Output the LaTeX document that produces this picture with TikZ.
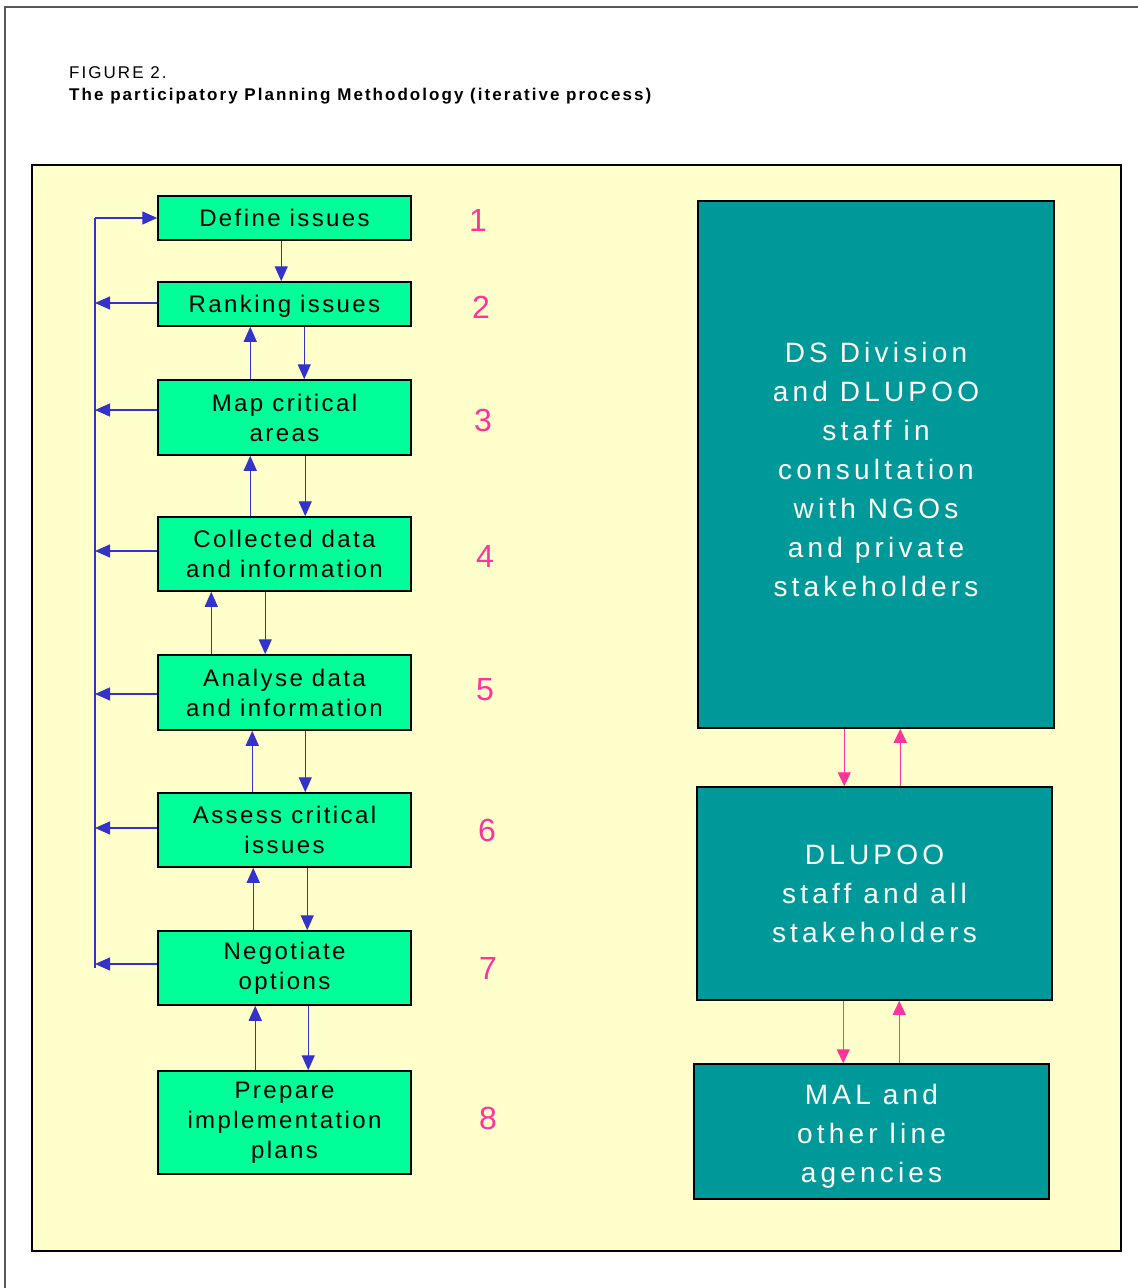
\documentclass[tikz,border=0pt]{standalone}
\usepackage{fontspec}
\setmainfont{Liberation Sans}
\newfontfamily\stepfont[LetterSpace=10]{Liberation Sans}
\newfontfamily\groupfont[LetterSpace=15]{Liberation Sans}
\newfontfamily\capfont[LetterSpace=12]{Liberation Sans}
\usetikzlibrary{arrows.meta}
\definecolor{panel}{HTML}{FFFFCC}
\definecolor{spring}{HTML}{00FF99}
\definecolor{tealbox}{HTML}{009999}
\definecolor{flowblue}{HTML}{3333CC}
\definecolor{hotpink}{HTML}{FF3399}

\begin{document}
\begin{tikzpicture}[x=1pt, y=-1pt,
    stepbox/.style={draw, line width=1.5pt, fill=spring, minimum width=253pt, inner sep=0pt, align=center, font=\stepfont\fontsize{24}{30}\selectfont},
    groupbox/.style={draw, line width=1.5pt, fill=tealbox, text=white, inner sep=0pt, align=center, font=\groupfont\fontsize{28}{39}\selectfont},
    num/.style={text=hotpink, font=\fontsize{32}{32}\selectfont},
    flow/.style={draw=flowblue, line width=1.4pt, -{Triangle[length=15pt,width=13pt]}},
    link/.style={draw=hotpink, line width=1.3pt, -{Triangle[length=14pt,width=13pt]}}]
    \useasboundingbox (0,0) rectangle (1138,1288);

    % Frame and panel
    \draw[line width=2pt, black!65] (1200,7) -- (4.5,7) -- (4.5,1300);
    \draw[line width=1.3pt, fill=panel] (32,165) rectangle (1121,1251);

    % Caption
    \node[anchor=base west, inner sep=0pt, font=\capfont\fontsize{17}{20}\selectfont] (fig) at (69,78) {FIGURE 2.};
    \node[anchor=base west, inner sep=0pt, font=\capfont\bfseries\fontsize{17}{20}\selectfont] (title) at (69,100) {The participatory Planning Methodology (iterative process)};

    % Steps
    \node[stepbox, minimum height=44pt] (def) at (284.5,218) {Define issues};
    \node[stepbox, minimum height=44pt] (rank) at (284.5,304) {\rule{0pt}{22pt}Ranking issues};
    \node[stepbox, minimum height=75pt] (map) at (284.5,417.5) {Map critical\\areas};
    \node[stepbox, minimum height=74pt] (coll) at (284.5,554) {Collected data\\and information};
    \node[stepbox, minimum height=75pt] (anal) at (284.5,692.5) {Analyse data\\and information};
    \node[stepbox, minimum height=74pt] (assess) at (284.5,830) {Assess critical\\issues};
    \node[stepbox, minimum height=74pt] (nego) at (284.5,968) {Negotiate\\options};
    \node[stepbox, minimum height=103pt] (prep) at (284.5,1122.5) {Prepare\\implementation\\plans};

    % Step numbers
    \node[num] (n1) at (478,220) {1};
    \node[num] (n2) at (481,307) {2};
    \node[num] (n3) at (483,420) {3};
    \node[num] (n4) at (485,556) {4};
    \node[num] (n5) at (485,690) {5};
    \node[num] (n6) at (487,830) {6};
    \node[num] (n7) at (488,968) {7};
    \node[num] (n8) at (488,1118) {8};

    % Arrows between steps
    \draw[flow] ([xshift=124pt]def.south west) -- ([xshift=124pt]rank.north west);
    \foreach \a/\b/\u/\d in {rank/map/93/147, map/coll/93/148, coll/anal/54/108,
                             anal/assess/95/148, assess/nego/96/150, nego/prep/98/151} {
        \draw[flow] ([xshift=\u pt]\b.north west) -- ([xshift=\u pt]\a.south west);
        \draw[flow] ([xshift=\d pt]\a.south west) -- ([xshift=\d pt]\b.north west);
    }

    % Feedback loop
    \coordinate (fbtop) at (95,218);
    \coordinate (fbbot) at (95,968);
    \draw[draw=flowblue, line width=1.4pt] (fbbot) -- (fbtop);
    \draw[flow] (fbtop) -- (def.west);
    \foreach \s/\dy in {rank/1, map/7.5, coll/3, anal/-1.5, assess/2, nego/4} {
        \path ([yshift=\dy pt]\s.west) coordinate (fb\s);
        \draw[flow] (fb\s) -- (fb\s -| fbtop);
    }

    % Groups
    \node[groupbox, minimum width=356pt, minimum height=527pt] (ds) at (876,464.5)
        {\rule{0pt}{30pt}DS Division\\and DLUPOO\\staff in\\consultation\\with NGOs\\and private\\stakeholders};
    \node[groupbox, minimum width=355pt, minimum height=213pt] (dlupoo) at (874.5,893.5)
        {DLUPOO\\staff and all\\stakeholders};
    \node[groupbox, minimum width=355pt, minimum height=135pt] (mal) at (871.5,1131.5)
        {\rule{0pt}{30pt}MAL and\\other line\\agencies};

    \draw[link] ([xshift=147pt]ds.south west) -- ([xshift=148pt]dlupoo.north west);
    \draw[link] ([xshift=204pt]dlupoo.north west) -- ([xshift=203pt]ds.south west);
    \draw[link] ([xshift=147pt]dlupoo.south west) -- ([xshift=150pt]mal.north west);
    \draw[link] ([xshift=206pt]mal.north west) -- ([xshift=203pt]dlupoo.south west);
\end{tikzpicture}
\end{document}
